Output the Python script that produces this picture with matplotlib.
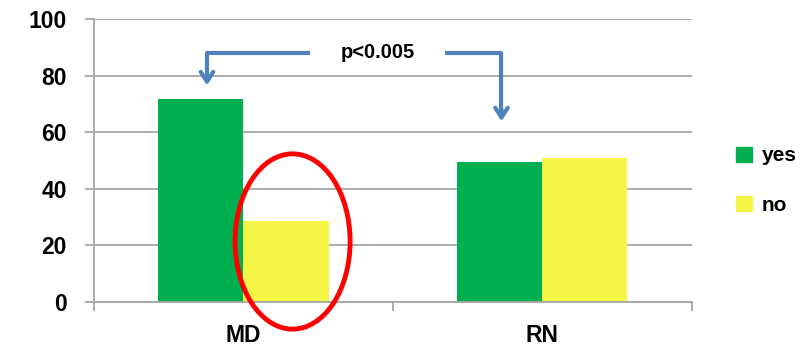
import matplotlib.pyplot as plt
import numpy as np
from matplotlib.patches import Ellipse, Patch

categories = ['MD', 'RN']
yes_values = [71.8, 49.4]
no_values = [28.6, 51.0]
series_labels = ['yes', 'no']
p_label = 'p<0.005'

green = '#00B050'
yellow = '#F5F545'
blue = '#4F81BD'
grid_grey = '#A6A6A6'

plt.rcParams['font.family'] = ['Liberation Sans', 'DejaVu Sans']
plt.rcParams['font.weight'] = 'bold'

fig = plt.figure(figsize=(8.11, 3.5), dpi=100)
ax = fig.add_axes([0.1159, 0.138, 0.737, 0.8077])

x = np.arange(len(categories))
w = 0.285
ax.bar(x - w / 2, yes_values, w, color=green, label=series_labels[0], zorder=2)
ax.bar(x + w / 2, no_values, w, color=yellow, label=series_labels[1], zorder=2)

ax.set_xlim(-0.5, len(categories) - 0.5)
ax.set_ylim(0, 100)
ax.set_yticks(range(0, 101, 20))
ax.yaxis.grid(True, color=grid_grey, lw=1.3, zorder=0)
ax.set_axisbelow(True)

# axis cosmetics
for s in ['top', 'right']:
    ax.spines[s].set_visible(False)
for s in ['left', 'bottom']:
    ax.spines[s].set_color(grid_grey)
    ax.spines[s].set_linewidth(1.3)
ax.tick_params(axis='y', length=6.5, width=1.3, color=grid_grey, pad=13, labelsize=16.5)
ax.set_xticks(x)
ax.set_xticklabels(categories, fontsize=16.5, fontweight='bold')
ax.tick_params(axis='x', which='major', length=0, pad=16)
ax.set_xticks(np.arange(-0.5, len(categories), 1.0), minor=True)
ax.tick_params(axis='x', which='minor', length=6.5, width=1.3, color=grid_grey)
for lab in ax.get_yticklabels():
    lab.set_fontweight('bold')

# significance arrows
y_bar = 88.1
ax.plot([0.2224, -0.122, -0.122], [y_bar, y_bar, 78], color=blue, lw=3,
        solid_capstyle='butt', clip_on=False, zorder=3)
ax.annotate('', xy=(-0.122, 76.5), xytext=(-0.122, 80),
            arrowprops=dict(arrowstyle='->,head_length=0.7,head_width=0.45',
                            color=blue, lw=3, shrinkA=0, shrinkB=0))
ax.plot([0.674, 0.8635, 0.8635], [y_bar, y_bar, 66], color=blue, lw=3,
        solid_capstyle='butt', clip_on=False, zorder=3)
ax.annotate('', xy=(0.8635, 63.8), xytext=(0.8635, 68),
            arrowprops=dict(arrowstyle='->,head_length=0.7,head_width=0.45',
                            color=blue, lw=3, shrinkA=0, shrinkB=0))
ax.text(0.4485, y_bar, p_label, ha='center', va='center', fontsize=14.5,
        fontweight='bold')

# highlight ellipse
ax.add_patch(Ellipse((0.1645, 21.3), 0.385, 62, fill=False, edgecolor='#FF0000',
                     lw=3.5, clip_on=False, zorder=4))

handles = [Patch(color=green), Patch(color=yellow)]
fig.legend(handles, series_labels, loc='center left', bbox_to_anchor=(0.885, 0.484),
           frameon=False, handlelength=0.75, handleheight=0.75,
           handletextpad=0.45, labelspacing=1.45,
           prop={'family': ['Liberation Sans'], 'weight': 'bold', 'size': 15})

fig.savefig('out.png', dpi=100)
